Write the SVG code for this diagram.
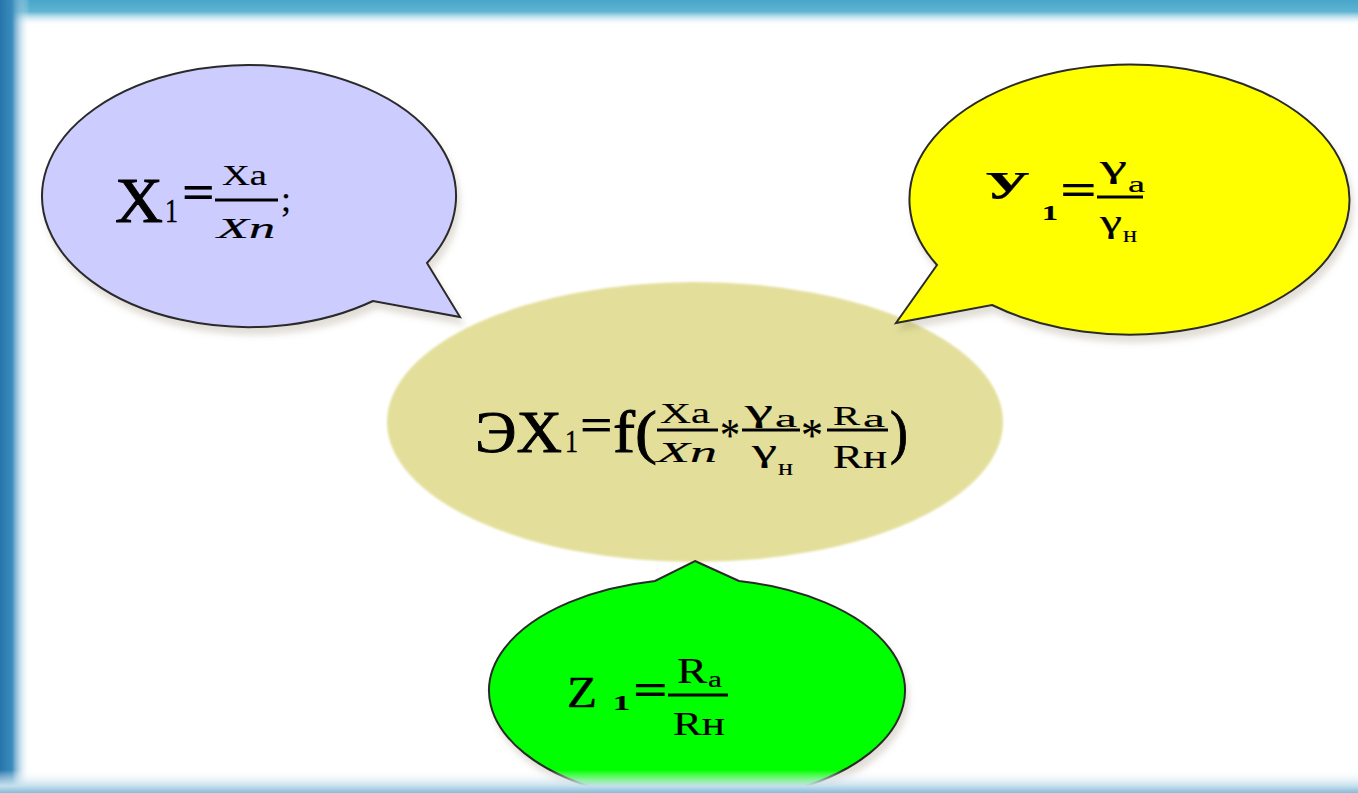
<svg xmlns="http://www.w3.org/2000/svg" width="1358" height="793" viewBox="0 0 1358 793">
<defs>
<style>
.t{font-family:"Liberation Serif","Times New Roman",serif;fill:#000;stroke:#000;stroke-width:0.9}
.m{stroke-width:0.45}
.s{stroke-width:0.2}
.i{font-style:italic}
.b{font-weight:bold}
.bar{stroke:#000;stroke-width:2.8}
.bub{stroke:#2a2a2a;stroke-width:2}
</style>
<linearGradient id="gTop" x1="0" y1="0" x2="0" y2="1">
<stop offset="0" stop-color="#47a6c9"/>
<stop offset="0.45" stop-color="#5fb4d2"/>
<stop offset="1" stop-color="#ffffff" stop-opacity="0"/>
</linearGradient>
<linearGradient id="gLeft" x1="0" y1="0" x2="1" y2="0">
<stop offset="0" stop-color="#2675aa"/>
<stop offset="0.4" stop-color="#3a8cbd"/>
<stop offset="1" stop-color="#ffffff" stop-opacity="0"/>
</linearGradient>
<linearGradient id="gBot" x1="0" y1="0" x2="0" y2="1">
<stop offset="0" stop-color="#ffffff" stop-opacity="0"/>
<stop offset="0.7" stop-color="#c5dfec"/>
<stop offset="1" stop-color="#86bcd8"/>
</linearGradient>
<filter id="sh" x="-10%" y="-10%" width="125%" height="130%">
<feDropShadow dx="3" dy="7" stdDeviation="3" flood-color="#7a6a50" flood-opacity="0.22"/>
</filter>
<filter id="soft" x="-5%" y="-5%" width="110%" height="110%">
<feGaussianBlur stdDeviation="1.2"/>
</filter>
</defs>
<rect x="0" y="0" width="1358" height="793" fill="#ffffff"/>

<g id="node-ex1">
<ellipse cx="695" cy="422" rx="308" ry="140" fill="#e3df9b" filter="url(#soft)"/>
<text class="t" x="475" y="452" font-size="60" textLength="87" lengthAdjust="spacingAndGlyphs">ЭX</text>
<text class="t m" x="565" y="452" font-size="31" textLength="13" lengthAdjust="spacingAndGlyphs">1</text>
<text class="t s b" x="580" y="440" font-size="46" textLength="33" lengthAdjust="spacingAndGlyphs">=</text>
<text class="t" x="613" y="452" font-size="60" textLength="44" lengthAdjust="spacingAndGlyphs">f(</text>
<line class="bar" x1="657" y1="430" x2="718" y2="430"/>
<text class="t s" x="660" y="423" font-size="29" textLength="50" lengthAdjust="spacingAndGlyphs">Xa</text>
<text class="t s i" x="657" y="462" font-size="30" textLength="60" lengthAdjust="spacingAndGlyphs">Xn</text>
<text class="t s" x="720" y="451" font-size="46" textLength="20" lengthAdjust="spacingAndGlyphs">*</text>
<line class="bar" x1="742" y1="430" x2="800" y2="430"/>
<text class="t s" x="745" y="421" font-size="31" textLength="28" lengthAdjust="spacingAndGlyphs">γ</text>
<text class="t s" x="775" y="427" font-size="25" textLength="22" lengthAdjust="spacingAndGlyphs">a</text>
<text class="t s" x="752" y="461" font-size="31" textLength="25" lengthAdjust="spacingAndGlyphs">γ</text>
<text class="t s" x="778" y="475" font-size="24" textLength="15" lengthAdjust="spacingAndGlyphs">н</text>
<text class="t s" x="801" y="451" font-size="46" textLength="22" lengthAdjust="spacingAndGlyphs">*</text>
<line class="bar" x1="827" y1="430" x2="888" y2="430"/>
<text class="t s" x="833" y="425" font-size="28" textLength="27" lengthAdjust="spacingAndGlyphs">R</text>
<text class="t s" x="863" y="427" font-size="25" textLength="22" lengthAdjust="spacingAndGlyphs">a</text>
<text class="t s" x="833" y="468" font-size="34" textLength="54" lengthAdjust="spacingAndGlyphs">Rн</text>
<text class="t" x="890" y="452" font-size="60" textLength="18" lengthAdjust="spacingAndGlyphs">)</text>
</g>

<g id="node-x1">
<path class="bub" d="M427,263 L460,317 L373,301 A207,131 0 1 1 427,263 Z" fill="#ccccff" filter="url(#sh)"/>
<text class="t" x="115" y="222" font-size="63" textLength="48" lengthAdjust="spacingAndGlyphs">X</text>
<text class="t m" x="165" y="222" font-size="33" textLength="13" lengthAdjust="spacingAndGlyphs">1</text>
<text class="t s b" x="182" y="208" font-size="48" textLength="33" lengthAdjust="spacingAndGlyphs">=</text>
<line class="bar" x1="215" y1="200" x2="278" y2="200"/>
<text class="t s" x="222" y="185" font-size="29" textLength="45" lengthAdjust="spacingAndGlyphs">Xa</text>
<text class="t s i" x="217" y="238" font-size="29" textLength="58" lengthAdjust="spacingAndGlyphs">Xn</text>
<text class="t s" x="281" y="211" font-size="36">;</text>
</g>

<g id="node-y1">
<path class="bub" d="M937,265 L896,323 L992,305 A220,135 0 1 0 937,265 Z" fill="#ffff00" filter="url(#sh)"/>
<text class="t s b" x="985" y="199" font-size="39" textLength="45" lengthAdjust="spacingAndGlyphs">У</text>
<text class="t s b" x="1042" y="220" font-size="22" textLength="16" lengthAdjust="spacingAndGlyphs">1</text>
<text class="t s b" x="1060" y="204" font-size="44" textLength="37" lengthAdjust="spacingAndGlyphs">=</text>
<line class="bar" x1="1097" y1="197" x2="1143" y2="197"/>
<text class="t s" x="1100" y="177" font-size="32" textLength="27" lengthAdjust="spacingAndGlyphs">γ</text>
<text class="t s" x="1128" y="192" font-size="23" textLength="17" lengthAdjust="spacingAndGlyphs">a</text>
<text class="t s" x="1100" y="232" font-size="31" textLength="22" lengthAdjust="spacingAndGlyphs">γ</text>
<text class="t s" x="1123" y="242" font-size="24" textLength="14" lengthAdjust="spacingAndGlyphs">н</text>
</g>

<g id="node-z1">
<path class="bub" d="M695,561 L739,581 A208,112 0 1 1 655,581 Z" fill="#00ff00" filter="url(#sh)"/>
<text class="t m" x="567" y="707" font-size="45" textLength="30" lengthAdjust="spacingAndGlyphs">Z</text>
<text class="t s b" x="613" y="710" font-size="22" textLength="17" lengthAdjust="spacingAndGlyphs">1</text>
<text class="t s b" x="633" y="704" font-size="44" textLength="35" lengthAdjust="spacingAndGlyphs">=</text>
<line class="bar" x1="668" y1="695" x2="728" y2="695"/>
<text class="t s" x="677" y="683" font-size="35" textLength="30" lengthAdjust="spacingAndGlyphs">R</text>
<text class="t s" x="708" y="687" font-size="24" textLength="14" lengthAdjust="spacingAndGlyphs">a</text>
<text class="t s" x="673" y="735" font-size="33" textLength="52" lengthAdjust="spacingAndGlyphs">Rн</text>
</g>

<g id="connectors"></g>

<g id="frame">
<rect x="0" y="0" width="1358" height="26" fill="url(#gTop)"/>
<rect x="0" y="0" width="30" height="793" fill="url(#gLeft)"/>
<rect x="0" y="770" width="1358" height="23" fill="url(#gBot)"/>
</g>
</svg>
